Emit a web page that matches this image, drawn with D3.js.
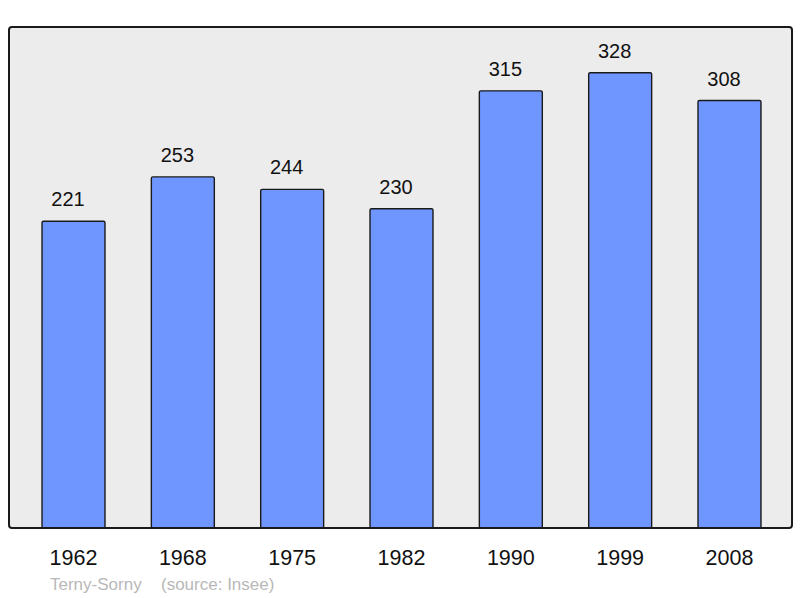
<!DOCTYPE html>
<html>
<head>
<meta charset="utf-8">
<script src="https://cdn.jsdelivr.net/npm/d3@7"></script>
<style>
  body { margin: 0; background: #fff; }
  text { font-family: "Liberation Sans", Arial, sans-serif; }
</style>
</head>
<body>
<div id="chart"></div>
<script>
// data
const years = ["1962", "1968", "1975", "1982", "1990", "1999", "2008"]
const population = [221, 253, 244, 230, 315, 328, 308]
const place = "Terny-Sorny"
const source = "(source: Insee)"

const width = 800
const height = 598
const frame = { left: 9, right: 792, top: 27, bottom: 528 }

const svg = d3.select("#chart")
  .append("svg")
    .attr("width", width)
    .attr("height", height)

// plot background
svg.append("rect")
  .attr("x", frame.left)
  .attr("y", frame.top)
  .attr("width", frame.right - frame.left)
  .attr("height", frame.bottom - frame.top)
  .attr("rx", 3)
  .attr("fill", "#ececec")

const xScale = d3.scaleBand()
  .domain(years)
  .range([9, 794])
  .paddingInner(0.424)
  .paddingOuter(0.302)

const yScale = d3.scaleLinear()
  .domain([0, 361])
  .range([frame.bottom, frame.top])

const data = years.map((y, i) => ({ year: y, value: population[i] }))

const bars = svg.append("g").attr("class", "bars")
  .selectAll("g")
  .data(data)
  .enter().append("g")

bars.append("rect")
  .attr("x", d => xScale(d.year))
  .attr("y", d => yScale(d.value))
  .attr("width", xScale.bandwidth())
  .attr("height", d => yScale(0) - yScale(d.value))
  .attr("rx", 1.5)
  .attr("fill", "#6f96ff")
  .attr("stroke", "#1a1a1a")
  .attr("stroke-width", 1.4)

// value labels sit a little left of the bar centre
bars.append("text")
  .attr("x", d => xScale(d.year) + xScale.bandwidth() / 2 - 5.5)
  .attr("y", d => yScale(d.value) - 15)
  .attr("text-anchor", "middle")
  .style("font-size", "20px")
  .attr("fill", "#111")
  .text(d => d.value)

// frame on top
svg.append("rect")
  .attr("x", frame.left)
  .attr("y", frame.top)
  .attr("width", frame.right - frame.left)
  .attr("height", frame.bottom - frame.top)
  .attr("rx", 3)
  .attr("fill", "none")
  .attr("stroke", "#1a1a1a")
  .attr("stroke-width", 2)

// x axis labels
const xAxis = d3.axisBottom(xScale).tickSize(0).tickPadding(0)
const axisG = svg.append("g")
  .attr("transform", `translate(0, ${frame.bottom + 20})`)
  .call(xAxis)
axisG.select(".domain").remove()
axisG.selectAll("text")
  .attr("dy", "0.77em")
  .style("font-size", "21.5px")
  .style("font-family", "Liberation Sans, Arial, sans-serif")
  .attr("fill", "#111")

// footer
svg.append("text")
  .attr("x", 50)
  .attr("y", 590)
  .style("font-size", "17px")
  .attr("fill", "#b8b8b8")
  .text(place)
svg.append("text")
  .attr("x", 161)
  .attr("y", 590)
  .style("font-size", "17px")
  .attr("fill", "#b8b8b8")
  .text(source)
</script>
</body>
</html>
